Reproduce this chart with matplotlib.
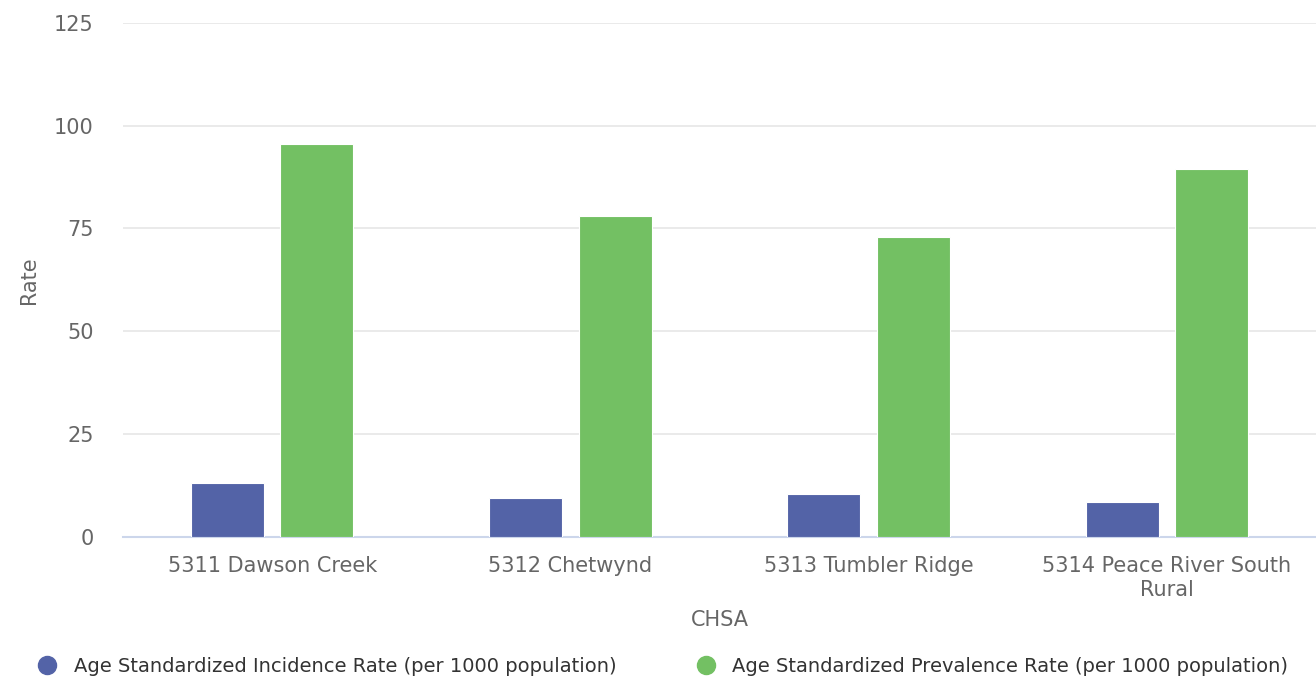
import numpy as np
import matplotlib.pyplot as plt
from matplotlib.lines import Line2D

categories = ['5311 Dawson Creek', '5312 Chetwynd', '5313 Tumbler Ridge', '5314 Peace River South\nRural']
incidence = [13.1, 9.4, 10.5, 8.5]
prevalence = [95.4, 78.1, 72.9, 89.5]
series_names = ['Age Standardized Incidence Rate (per 1000 population)',
                'Age Standardized Prevalence Rate (per 1000 population)']
colors = ['#5363A7', '#73C063']

fig = plt.figure(figsize=(13.16, 6.8), dpi=100)
ax = fig.add_axes([0.0935, 0.2103, 0.9065, 0.7563])

x = np.arange(len(categories))
w = 0.245
ax.bar(x - 0.15, incidence, w, color=colors[0], edgecolor='white', linewidth=0.8, zorder=3)
ax.bar(x + 0.15, prevalence, w, color=colors[1], edgecolor='white', linewidth=0.8, zorder=3)

ax.set_xlim(-0.5, len(categories) - 0.5)
ax.set_ylim(0, 125)
ax.set_yticks([0, 25, 50, 75, 100, 125])
ax.yaxis.grid(True, color='#e6e6e6', linewidth=1.2, zorder=0)
ax.set_axisbelow(True)
for s in ['top', 'right', 'left']:
    ax.spines[s].set_visible(False)
ax.spines['bottom'].set_color('#ccd6eb')
ax.spines['bottom'].set_linewidth(1.5)
ax.tick_params(axis='both', length=0, colors='#666666', labelsize=15)
ax.tick_params(axis='y', pad=21)
ax.tick_params(axis='x', pad=14)
ax.set_xticks(x)
ax.set_xticklabels(categories, linespacing=1.25)
ax.set_ylabel('Rate', fontsize=15, color='#666666', labelpad=11)
ax.set_xlabel('CHSA', fontsize=15, color='#666666', labelpad=7)

handles = [Line2D([], [], marker='o', linestyle='', markersize=13, color=c) for c in colors]
fig.legend(handles, series_names, loc='center', bbox_to_anchor=(0.5, 0.02), ncol=2,
           frameon=False, fontsize=14, handletextpad=0.35, columnspacing=3.6,
           labelcolor='#333333')

fig.savefig('out.png', dpi=100)
plt.close(fig)
